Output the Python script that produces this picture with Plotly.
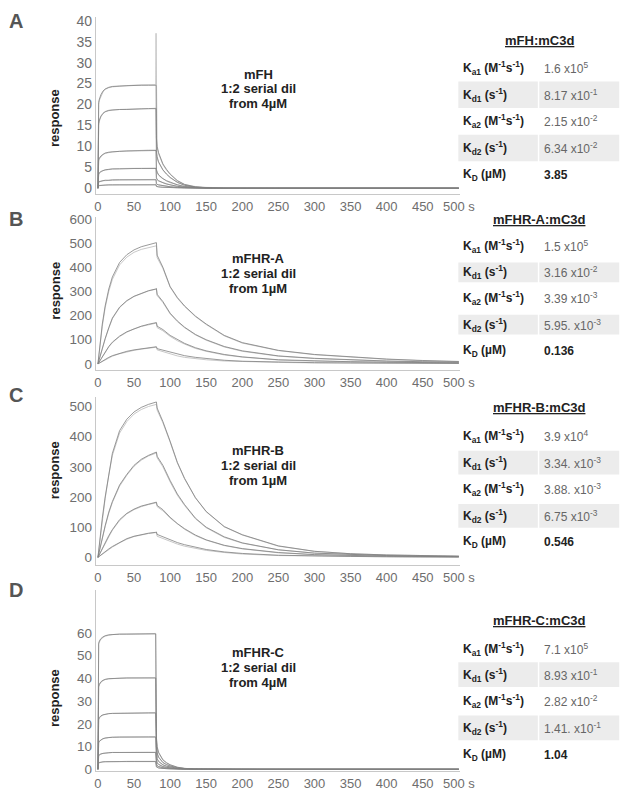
import plotly.graph_objects as go

W, H = 643, 801

# ---------------- sensorgram data ----------------
# A: mFH, 1:2 serial dilution from 4 uM
tA = [0, 0.5, 1, 2, 4, 7, 10, 15, 20, 30, 40, 50, 60, 70, 80, 80.5, 81, 82, 84, 87,
      90, 95, 100, 110, 120, 135, 150, 175, 200, 250, 300, 350, 400, 450, 500]
A_fit = [
    [0, 19.0, 20.5, 21.3, 22.3, 23.2, 23.7, 24.1, 24.3, 24.4, 24.5, 24.5, 24.6, 24.6, 24.6, 24.6, 12.0, 10.0, 8.5, 7.0,
     5.8, 4.5, 3.4, 1.8, 0.9, 0.3, 0.1, 0, 0, 0, 0, 0, 0, 0, 0],
    [0, 14.0, 15.5, 16.3, 17.2, 17.9, 18.3, 18.6, 18.7, 18.8, 18.8, 18.9, 18.9, 19.0, 19.0, 19.0, 9.0, 7.5, 6.3, 5.2,
     4.4, 3.4, 2.6, 1.4, 0.7, 0.25, 0.1, 0, 0, 0, 0, 0, 0, 0, 0],
    [0, 6.0, 6.8, 7.2, 7.7, 8.1, 8.4, 8.6, 8.7, 8.8, 8.9, 8.9, 9.0, 9.0, 9.0, 9.0, 4.5, 3.8, 3.2, 2.7,
     2.3, 1.8, 1.4, 0.8, 0.4, 0.15, 0.05, 0, 0, 0, 0, 0, 0, 0, 0],
    [0, 3.0, 3.4, 3.7, 4.0, 4.2, 4.4, 4.5, 4.6, 4.6, 4.7, 4.7, 4.7, 4.7, 4.7, 4.7, 2.5, 2.1, 1.8, 1.5,
     1.3, 1.0, 0.8, 0.45, 0.25, 0.1, 0.03, 0, 0, 0, 0, 0, 0, 0, 0],
    [0, 1.3, 1.5, 1.6, 1.7, 1.8, 1.9, 1.9, 2.0, 2.0, 2.0, 2.0, 2.0, 2.0, 2.0, 2.0, 1.1, 0.9, 0.8, 0.7,
     0.6, 0.45, 0.35, 0.2, 0.1, 0.04, 0, 0, 0, 0, 0, 0, 0, 0, 0],
    [0, 0.5, 0.6, 0.65, 0.7, 0.75, 0.78, 0.8, 0.8, 0.8, 0.8, 0.8, 0.8, 0.8, 0.8, 0.8, 0.45, 0.38, 0.32, 0.27,
     0.23, 0.18, 0.14, 0.08, 0.04, 0.02, 0, 0, 0, 0, 0, 0, 0, 0, 0],
]
A_obs = [
    [0, 18.0, 20.0, 21.0, 22.0, 23.0, 23.6, 24.0, 24.2, 24.4, 24.5, 24.6, 24.6, 24.7, 24.7, 37.0, 11.5, 9.6, 8.2, 6.8,
     5.6, 4.3, 3.3, 1.8, 0.9, 0.4, 0.2, 0.1, 0, 0, 0, 0, 0, 0, 0],
    [0, 13.0, 15.0, 16.0, 17.0, 17.8, 18.2, 18.5, 18.7, 18.8, 18.9, 18.9, 19.0, 19.0, 19.1, 19.1, 8.6, 7.2, 6.1, 5.0,
     4.3, 3.3, 2.5, 1.4, 0.7, 0.3, 0.1, 0.05, 0, 0, 0, 0, 0, 0, 0],
    [0, 5.6, 6.5, 7.0, 7.5, 8.0, 8.3, 8.5, 8.7, 8.8, 8.9, 9.0, 9.0, 9.1, 9.1, 9.1, 4.3, 3.7, 3.1, 2.6,
     2.2, 1.7, 1.3, 0.8, 0.4, 0.15, 0.05, 0, 0, 0, 0, 0, 0, 0, 0],
    [0, 2.8, 3.2, 3.6, 3.9, 4.2, 4.3, 4.5, 4.6, 4.7, 4.7, 4.8, 4.8, 4.8, 4.8, 4.8, 2.4, 2.0, 1.7, 1.5,
     1.3, 1.0, 0.8, 0.45, 0.25, 0.1, 0.03, 0, 0, 0, 0, 0, 0, 0, 0],
    [0, 1.2, 1.4, 1.5, 1.7, 1.8, 1.8, 1.9, 1.9, 2.0, 2.0, 2.0, 2.1, 2.1, 2.1, 2.1, 1.0, 0.9, 0.8, 0.7,
     0.6, 0.45, 0.35, 0.2, 0.1, 0.04, 0, 0, 0, 0, 0, 0, 0, 0, 0],
    [0, 0.4, 0.5, 0.6, 0.7, 0.7, 0.75, 0.8, 0.8, 0.8, 0.8, 0.85, 0.85, 0.85, 0.85, 0.85, 0.4, 0.35, 0.3, 0.25,
     0.2, 0.18, 0.14, 0.08, 0.04, 0.02, 0, 0, 0, 0, 0, 0, 0, 0, 0],
]

# B: mFHR-A, 1:2 serial dilution from 1 uM
tB = [0, 3, 6, 10, 15, 20, 30, 40, 50, 60, 70, 80, 81, 82, 90, 100, 110, 120, 135, 150,
      175, 200, 250, 300, 350, 400, 450, 500]
B_fit = [
    [0, 90, 165, 240, 310, 360, 420, 452, 472, 485, 494, 500, 502, 450, 400, 320, 275, 240, 198, 165, 118, 88, 56, 39, 28, 20, 14, 10],
    [0, 35, 65, 105, 150, 190, 235, 262, 280, 293, 303, 310, 312, 288, 258, 210, 178, 152, 122, 100, 72, 54, 33, 23, 16, 12, 9, 7],
    [0, 15, 30, 50, 72, 90, 115, 133, 146, 156, 164, 170, 171, 156, 142, 118, 100, 85, 67, 54, 39, 29, 17, 12, 9, 7, 5, 4],
    [0, 6, 12, 19, 27, 34, 44, 52, 58, 63, 67, 70, 71, 63, 57, 47, 40, 34, 27, 22, 15, 11, 7, 5, 4, 3, 3, 2],
]
B_obs = [
    [0, 80, 155, 232, 300, 350, 410, 442, 462, 474, 482, 487, 489, 440, 395, 318, 272, 238, 196, 163, 116, 86, 55, 38, 27, 19, 13, 9],
    [0, 32, 62, 102, 147, 187, 233, 260, 279, 292, 302, 309, 311, 283, 254, 207, 175, 150, 120, 98, 70, 52, 32, 22, 16, 11, 8, 6],
    [0, 14, 28, 48, 70, 88, 113, 131, 145, 155, 163, 168, 169, 150, 137, 114, 96, 82, 64, 52, 37, 28, 16, 11, 8, 6, 5, 4],
    [0, 5, 10, 17, 25, 32, 42, 50, 56, 61, 65, 68, 69, 58, 50, 40, 33, 27, 21, 17, 12, 9, 6, 4, 3, 3, 2, 2],
]

# C: mFHR-B, 1:2 serial dilution from 1 uM
tC = tB
C_fit = [
    [0, 70, 130, 200, 280, 345, 420, 458, 482, 497, 507, 514, 515, 495, 450, 385, 315, 262, 198, 152, 102, 75, 38, 20, 12, 8, 6, 4],
    [0, 35, 65, 105, 150, 185, 240, 275, 305, 325, 338, 348, 349, 335, 305, 255, 210, 175, 130, 100, 68, 48, 25, 14, 9, 6, 4, 3],
    [0, 15, 30, 50, 72, 92, 125, 146, 160, 170, 177, 182, 183, 172, 158, 133, 112, 95, 74, 58, 40, 29, 16, 9, 6, 4, 3, 2],
    [0, 6, 12, 19, 28, 36, 50, 62, 70, 76, 80, 83, 84, 76, 68, 58, 49, 42, 33, 26, 18, 13, 7, 4, 3, 2, 2, 1],
]
C_obs = [
    [0, 65, 125, 195, 272, 338, 412, 450, 475, 490, 500, 506, 507, 488, 446, 382, 313, 260, 197, 151, 101, 74, 37, 20, 12, 8, 5, 4],
    [0, 33, 62, 102, 146, 182, 236, 272, 302, 322, 336, 345, 346, 330, 300, 250, 206, 172, 128, 98, 66, 47, 25, 14, 9, 6, 4, 3],
    [0, 14, 28, 48, 70, 90, 122, 144, 158, 168, 175, 180, 181, 168, 154, 130, 110, 93, 72, 57, 39, 28, 15, 9, 6, 4, 3, 2],
    [0, 5, 11, 18, 26, 34, 48, 60, 69, 75, 79, 82, 83, 70, 62, 52, 44, 37, 29, 23, 16, 11, 6, 4, 3, 2, 1, 1],
]

# D: mFHR-C, 1:2 serial dilution from 4 uM
tD = [0, 0.5, 1, 2, 4, 7, 10, 15, 20, 30, 40, 50, 60, 70, 80, 81, 82, 84, 87, 90,
      95, 100, 110, 120, 135, 150, 175, 200, 250, 300, 350, 400, 450, 500]
D_fit = [
    [0, 54, 55.5, 56.5, 57.5, 58.3, 58.8, 59.2, 59.4, 59.5, 59.5, 59.6, 59.6, 59.6, 59.6, 14, 10, 7.5, 5.5, 4.2,
     2.9, 2.0, 0.9, 0.4, 0.1, 0.05, 0, 0, 0, 0, 0, 0, 0, 0],
    [0, 35, 36.5, 37.5, 38.5, 39.2, 39.6, 39.9, 40.0, 40.1, 40.2, 40.2, 40.2, 40.2, 40.2, 10, 7.2, 5.4, 4.0, 3.0,
     2.1, 1.5, 0.7, 0.3, 0.1, 0.03, 0, 0, 0, 0, 0, 0, 0, 0],
    [0, 21, 22, 22.8, 23.5, 24.0, 24.3, 24.5, 24.6, 24.7, 24.8, 24.8, 24.8, 24.8, 24.8, 6.5, 4.7, 3.5, 2.6, 2.0,
     1.4, 1.0, 0.45, 0.2, 0.06, 0.02, 0, 0, 0, 0, 0, 0, 0, 0],
    [0, 11, 11.8, 12.4, 13.0, 13.5, 13.8, 14.0, 14.1, 14.2, 14.2, 14.2, 14.2, 14.2, 14.2, 4.0, 2.9, 2.2, 1.6, 1.2,
     0.85, 0.6, 0.28, 0.12, 0.04, 0.01, 0, 0, 0, 0, 0, 0, 0, 0],
    [0, 5.5, 6.0, 6.4, 6.8, 7.0, 7.2, 7.3, 7.4, 7.4, 7.4, 7.4, 7.4, 7.4, 7.4, 2.2, 1.6, 1.2, 0.9, 0.7,
     0.5, 0.35, 0.16, 0.07, 0.02, 0, 0, 0, 0, 0, 0, 0, 0, 0],
    [0, 2.5, 2.8, 3.0, 3.2, 3.3, 3.35, 3.4, 3.4, 3.4, 3.4, 3.4, 3.4, 3.4, 3.4, 1.1, 0.8, 0.6, 0.45, 0.35,
     0.25, 0.18, 0.08, 0.03, 0.01, 0, 0, 0, 0, 0, 0, 0, 0, 0],
]
D_obs = [
    [0, 53, 55, 56, 57.2, 58.0, 58.6, 59.0, 59.3, 59.5, 59.6, 59.7, 59.7, 59.8, 59.8, 13, 9.5, 7.2, 5.3, 4.0,
     2.8, 1.9, 0.9, 0.4, 0.15, 0.05, 0, 0, 0, 0, 0, 0, 0, 0],
    [0, 34, 36, 37.2, 38.2, 39.0, 39.5, 39.8, 40.0, 40.1, 40.2, 40.3, 40.3, 40.3, 40.3, 9.5, 7.0, 5.2, 3.9, 2.9,
     2.0, 1.4, 0.7, 0.3, 0.1, 0.03, 0, 0, 0, 0, 0, 0, 0, 0],
    [0, 20.5, 21.7, 22.5, 23.3, 23.9, 24.2, 24.5, 24.6, 24.7, 24.8, 24.9, 24.9, 24.9, 24.9, 6.2, 4.5, 3.4, 2.5, 1.9,
     1.3, 1.0, 0.45, 0.2, 0.06, 0.02, 0, 0, 0, 0, 0, 0, 0, 0],
    [0, 10.5, 11.5, 12.2, 12.9, 13.4, 13.7, 14.0, 14.1, 14.2, 14.3, 14.3, 14.3, 14.3, 14.3, 3.8, 2.8, 2.1, 1.6, 1.2,
     0.85, 0.6, 0.28, 0.12, 0.04, 0.01, 0, 0, 0, 0, 0, 0, 0, 0],
    [0, 5.2, 5.8, 6.3, 6.7, 7.0, 7.1, 7.3, 7.4, 7.4, 7.5, 7.5, 7.5, 7.5, 7.5, 2.1, 1.5, 1.2, 0.9, 0.7,
     0.5, 0.35, 0.16, 0.07, 0.02, 0, 0, 0, 0, 0, 0, 0, 0, 0],
    [0, 2.4, 2.7, 2.9, 3.1, 3.2, 3.3, 3.4, 3.4, 3.4, 3.5, 3.5, 3.5, 3.5, 3.5, 1.0, 0.8, 0.6, 0.45, 0.35,
     0.25, 0.18, 0.08, 0.03, 0.01, 0, 0, 0, 0, 0, 0, 0, 0, 0],
]

# axis ticks
x_ticks = [0, 50, 100, 150, 200, 250, 300, 350, 400, 450, 500]
x_ticktext = ["0", "50", "100", "150", "200", "250", "300", "350", "400", "450", "500 s"]
A_yticks = [0, 5, 10, 15, 20, 25, 30, 35, 40]
B_yticks = [0, 100, 200, 300, 400, 500, 600]
C_yticks = [0, 100, 200, 300, 400, 500]
D_yticks = [0, 10, 20, 30, 40, 50, 60]

# panel notes
analytes = ["mFH", "mFHR-A", "mFHR-B", "mFHR-C"]
start_conc = ["from 4µM", "from 1µM", "from 1µM", "from 4µM"]

# kinetics tables
table_titles = ["mFH:mC3d", "mFHR-A:mC3d", "mFHR-B:mC3d", "mFHR-C:mC3d"]
row_labels = ["K<sub>a1</sub> (M<sup>-1</sup>s<sup>-1</sup>)", "K<sub>d1</sub> (s<sup>-1</sup>)",
              "K<sub>a2</sub> (M<sup>-1</sup>s<sup>-1</sup>)", "K<sub>d2</sub> (s<sup>-1</sup>)",
              "K<sub>D</sub> (µM)"]
A_vals = ["1.6 x10<sup>5</sup>", "8.17 x10<sup>-1</sup>", "2.15 x10<sup>-2</sup>", "6.34 x10<sup>-2</sup>", "3.85"]
B_vals = ["1.5 x10<sup>5</sup>", "3.16 x10<sup>-2</sup>", "3.39 x10<sup>-3</sup>", "5.95. x10<sup>-3</sup>", "0.136"]
C_vals = ["3.9 x10<sup>4</sup>", "3.34. x10<sup>-3</sup>", "3.88. x10<sup>-3</sup>", "6.75 x10<sup>-3</sup>", "0.546"]
D_vals = ["7.1 x10<sup>5</sup>", "8.93 x10<sup>-1</sup>", "2.82 x10<sup>-2</sup>", "1.41. x10<sup>-1</sup>", "1.04"]

# ---------------- layout geometry (pixels) ----------------
FONT = "Arial, Liberation Sans, sans-serif"
panels = [
    dict(letter="A", t=tA, fit=A_fit, obs=A_obs, yticks=A_yticks, yr=[-1.4, 41], dom=(11.7, 191.7),
         letter_y=16, resp_y=115, note_y=70, title_y=36, rows=[64, 91, 118, 145, 172], band=27, vals=A_vals),
    dict(letter="B", t=tB, fit=B_fit, obs=B_obs, yticks=B_yticks, yr=[-25, 608], dom=(215, 370),
         letter_y=217, resp_y=290, note_y=257, title_y=217, rows=[244, 271, 297, 324, 351], band=20, vals=B_vals),
    dict(letter="C", t=tC, fit=C_fit, obs=C_obs, yticks=C_yticks, yr=[-26, 533], dom=(397, 568),
         letter_y=395, resp_y=472, note_y=452, title_y=408, rows=[437, 464, 491, 518, 544], band=24, vals=C_vals),
    dict(letter="D", t=tD, fit=D_fit, obs=D_obs, yticks=D_yticks, yr=[-0.9, 79], dom=(593, 777),
         letter_y=593, resp_y=703, note_y=657, title_y=624, rows=[653, 679, 706, 733, 760], band=25, vals=D_vals),
]


def fx(x):
    return x / W


def fy(y):
    return 1 - y / H


def note(x, y, text, size, color, xanchor="center", angle=0):
    return dict(x=fx(x), y=fy(y), xref="paper", yref="paper", xanchor=xanchor, yanchor="middle",
                text=text, textangle=angle, showarrow=False,
                font=dict(family=FONT, size=size, color=color))


fig = go.Figure()
annotations = []
shapes = []

for i, p in enumerate(panels):
    n = "" if i == 0 else str(i + 1)
    xa, ya = "x" + n, "y" + n

    # observed traces (light) and fitted curves (darker)
    for curve in p["obs"]:
        fig.add_trace(go.Scatter(x=p["t"], y=curve, mode="lines", xaxis=xa, yaxis=ya,
                                 line=dict(color="#c2c2c2", width=0.9), hoverinfo="skip"))
    for curve in p["fit"]:
        fig.add_trace(go.Scatter(x=p["t"], y=curve, mode="lines", xaxis=xa, yaxis=ya,
                                 line=dict(color="#808080", width=0.8), hoverinfo="skip"))

    fig.layout["xaxis" + n] = dict(
        domain=[fx(97.2), fx(471)], range=[-3, 502], anchor=ya,
        tickvals=x_ticks, ticktext=x_ticktext, ticks="", showgrid=False, zeroline=False,
        showline=True, linecolor="#c8c8c8", linewidth=1,
        tickfont=dict(family=FONT, size=13, color="#6e6e6e"))
    fig.layout["yaxis" + n] = dict(
        domain=[fy(p["dom"][1]), fy(p["dom"][0])], range=p["yr"], anchor=xa,
        tickvals=p["yticks"], ticks="", showgrid=False, zeroline=False,
        showline=True, linecolor="#c8c8c8", linewidth=1,
        tickfont=dict(family=FONT, size=14 if i == 0 else 13.5, color="#6e6e6e"))

    annotations.append(note(15, p["letter_y"], "<b>%s</b>" % p["letter"], 20, "#555555"))
    annotations.append(note(55, p["resp_y"], "<b>response</b>", 13, "#222222", angle=-90))
    for k, line in enumerate([analytes[i], "1:2 serial dil", start_conc[i]]):
        annotations.append(note(264, p["note_y"] + 15 * k, "<b>%s</b>" % line, 13, "#222222"))

    # kinetics table
    annotations.append(note(552, p["title_y"], "<b><u>%s</u></b>" % table_titles[i], 13, "#222222"))
    for r, (lab, val) in enumerate(zip(row_labels, p["vals"])):
        ry = p["rows"][r]
        if r in (1, 3):
            for x0, x1 in ((469, 550.5), (552, 634)):
                shapes.append(dict(type="rect", xref="paper", yref="paper",
                                   x0=fx(x0), x1=fx(x1), y0=fy(ry + p["band"] / 2), y1=fy(ry - p["band"] / 2),
                                   fillcolor="#ececec", line=dict(width=0), layer="below"))
        annotations.append(note(472, ry, "<b>%s</b>" % lab, 12, "#222222", xanchor="left"))
        if r == 4:
            annotations.append(note(555, ry, "<b>%s</b>" % val, 12, "#222222", xanchor="left"))
        else:
            annotations.append(note(555, ry, val, 12, "#666666", xanchor="left"))

fig.update_layout(
    width=W, height=H, margin=dict(l=0, r=0, t=0, b=0),
    paper_bgcolor="white", plot_bgcolor="white", showlegend=False,
    annotations=annotations, shapes=shapes,
)

fig.write_html("out.html", config={"displayModeBar": False},
               post_script="document.body.style.margin='0';")
